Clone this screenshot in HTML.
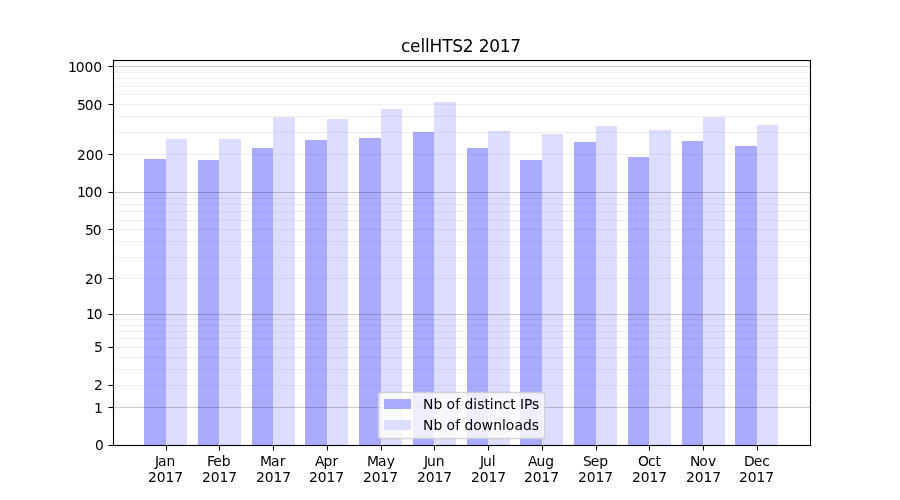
<!DOCTYPE html>
<html lang="en"><head><meta charset="utf-8"><title>cellHTS2 2017</title>
<style>
html,body{margin:0;padding:0;background:#fff;}
body{width:900px;height:500px;overflow:hidden;}
svg{display:block;}
text{font-family:"DejaVu Sans","Liberation Sans",sans-serif;font-size:13.889px;fill:#000;}
.t{font-size:17px;}
.c{shape-rendering:crispEdges;}
</style></head><body>
<svg width="900" height="500" viewBox="0 0 900 500">
<rect width="900" height="500" fill="#fff"/>
<g class="c">
<rect x="144" y="159" width="22" height="286" fill="#aaaaff"/>
<rect x="198" y="160" width="21" height="285" fill="#aaaaff"/>
<rect x="252" y="148" width="21" height="297" fill="#aaaaff"/>
<rect x="305" y="140" width="22" height="305" fill="#aaaaff"/>
<rect x="359" y="138" width="22" height="307" fill="#aaaaff"/>
<rect x="413" y="132" width="21" height="313" fill="#aaaaff"/>
<rect x="467" y="148" width="21" height="297" fill="#aaaaff"/>
<rect x="520" y="160" width="22" height="285" fill="#aaaaff"/>
<rect x="574" y="142" width="22" height="303" fill="#aaaaff"/>
<rect x="628" y="157" width="21" height="288" fill="#aaaaff"/>
<rect x="682" y="141" width="21" height="304" fill="#aaaaff"/>
<rect x="735" y="146" width="22" height="299" fill="#aaaaff"/>
<rect x="166" y="139" width="21" height="306" fill="#ddddff"/>
<rect x="219" y="139" width="22" height="306" fill="#ddddff"/>
<rect x="273" y="117" width="22" height="328" fill="#ddddff"/>
<rect x="327" y="119" width="21" height="326" fill="#ddddff"/>
<rect x="381" y="109" width="21" height="336" fill="#ddddff"/>
<rect x="434" y="102" width="22" height="343" fill="#ddddff"/>
<rect x="488" y="131" width="22" height="314" fill="#ddddff"/>
<rect x="542" y="134" width="21" height="311" fill="#ddddff"/>
<rect x="596" y="126" width="21" height="319" fill="#ddddff"/>
<rect x="649" y="130" width="22" height="315" fill="#ddddff"/>
<rect x="703" y="117" width="22" height="328" fill="#ddddff"/>
<rect x="757" y="125" width="21" height="320" fill="#ddddff"/>
<rect x="114" y="407" width="696" height="1" fill="#000" fill-opacity="0.2"/>
<rect x="114" y="385" width="696" height="1" fill="#000" fill-opacity="0.06"/>
<rect x="114" y="369" width="696" height="1" fill="#000" fill-opacity="0.06"/>
<rect x="114" y="357" width="696" height="1" fill="#000" fill-opacity="0.06"/>
<rect x="114" y="347" width="696" height="1" fill="#000" fill-opacity="0.06"/>
<rect x="114" y="338" width="696" height="1" fill="#000" fill-opacity="0.06"/>
<rect x="114" y="331" width="696" height="1" fill="#000" fill-opacity="0.06"/>
<rect x="114" y="325" width="696" height="1" fill="#000" fill-opacity="0.06"/>
<rect x="114" y="319" width="696" height="1" fill="#000" fill-opacity="0.06"/>
<rect x="114" y="314" width="696" height="1" fill="#000" fill-opacity="0.2"/>
<rect x="114" y="278" width="696" height="1" fill="#000" fill-opacity="0.06"/>
<rect x="114" y="257" width="696" height="1" fill="#000" fill-opacity="0.06"/>
<rect x="114" y="241" width="696" height="1" fill="#000" fill-opacity="0.06"/>
<rect x="114" y="229" width="696" height="1" fill="#000" fill-opacity="0.06"/>
<rect x="114" y="220" width="696" height="1" fill="#000" fill-opacity="0.06"/>
<rect x="114" y="211" width="696" height="1" fill="#000" fill-opacity="0.06"/>
<rect x="114" y="204" width="696" height="1" fill="#000" fill-opacity="0.06"/>
<rect x="114" y="198" width="696" height="1" fill="#000" fill-opacity="0.06"/>
<rect x="114" y="192" width="696" height="1" fill="#000" fill-opacity="0.2"/>
<rect x="114" y="154" width="696" height="1" fill="#000" fill-opacity="0.06"/>
<rect x="114" y="132" width="696" height="1" fill="#000" fill-opacity="0.06"/>
<rect x="114" y="116" width="696" height="1" fill="#000" fill-opacity="0.06"/>
<rect x="114" y="104" width="696" height="1" fill="#000" fill-opacity="0.06"/>
<rect x="114" y="94" width="696" height="1" fill="#000" fill-opacity="0.06"/>
<rect x="114" y="86" width="696" height="1" fill="#000" fill-opacity="0.06"/>
<rect x="114" y="78" width="696" height="1" fill="#000" fill-opacity="0.06"/>
<rect x="114" y="72" width="696" height="1" fill="#000" fill-opacity="0.06"/>
<rect x="114" y="66" width="696" height="1" fill="#000" fill-opacity="0.2"/>
</g>
<rect x="378.5" y="392.5" width="166" height="46" rx="2.78" ry="2.78" fill="#fff" fill-opacity="0.8" stroke="#ccc" stroke-opacity="0.8" stroke-width="1.389"/>
<rect class="c" x="384" y="399" width="27" height="10" fill="#aaaaff"/>
<rect class="c" x="384" y="420" width="27" height="10" fill="#ddddff"/>
<g class="c">
<rect x="112" y="60" width="1" height="386" fill="#000" fill-opacity="0.055"/>
<rect x="114" y="61" width="1" height="384" fill="#000" fill-opacity="0.055"/>
<rect x="809" y="61" width="1" height="384" fill="#000" fill-opacity="0.055"/>
<rect x="811" y="60" width="1" height="386" fill="#000" fill-opacity="0.055"/>
<rect x="113" y="59" width="698" height="1" fill="#000" fill-opacity="0.055"/>
<rect x="114" y="61" width="696" height="1" fill="#000" fill-opacity="0.055"/>
<rect x="114" y="444" width="696" height="1" fill="#000" fill-opacity="0.055"/>
<rect x="113" y="446" width="698" height="1" fill="#000" fill-opacity="0.055"/>
<rect x="113" y="59" width="1" height="1" fill="#000" fill-opacity="0.055"/>
<rect x="112" y="60" width="1" height="1" fill="#000" fill-opacity="0.055"/>
<rect x="810" y="59" width="1" height="1" fill="#000" fill-opacity="0.055"/>
<rect x="811" y="60" width="1" height="1" fill="#000" fill-opacity="0.055"/>
<rect x="112" y="446" width="1" height="1" fill="#000" fill-opacity="0.055"/>
<rect x="113" y="446" width="1" height="1" fill="#000" fill-opacity="0.055"/>
<rect x="811" y="445" width="1" height="1" fill="#000" fill-opacity="0.055"/>
<rect x="810" y="446" width="1" height="1" fill="#000" fill-opacity="0.055"/>
<rect x="113" y="60" width="1" height="386" fill="#000"/>
<rect x="810" y="60" width="1" height="386" fill="#000"/>
<rect x="113" y="60" width="698" height="1" fill="#000"/>
<rect x="113" y="445" width="698" height="1" fill="#000"/>
<rect x="109" y="445" width="4" height="1" fill="#000"/>
<rect x="108" y="445" width="1" height="1" fill="#000" fill-opacity="0.5"/>
<rect x="109" y="444" width="4" height="1" fill="#000" fill-opacity="0.055"/>
<rect x="109" y="446" width="4" height="1" fill="#000" fill-opacity="0.055"/>
<rect x="108" y="444" width="1" height="1" fill="#000" fill-opacity="0.0275"/>
<rect x="108" y="446" width="1" height="1" fill="#000" fill-opacity="0.0275"/>
<rect x="109" y="407" width="4" height="1" fill="#000"/>
<rect x="108" y="407" width="1" height="1" fill="#000" fill-opacity="0.5"/>
<rect x="109" y="406" width="4" height="1" fill="#000" fill-opacity="0.055"/>
<rect x="109" y="408" width="4" height="1" fill="#000" fill-opacity="0.055"/>
<rect x="108" y="406" width="1" height="1" fill="#000" fill-opacity="0.0275"/>
<rect x="108" y="408" width="1" height="1" fill="#000" fill-opacity="0.0275"/>
<rect x="109" y="385" width="4" height="1" fill="#000"/>
<rect x="108" y="385" width="1" height="1" fill="#000" fill-opacity="0.5"/>
<rect x="109" y="384" width="4" height="1" fill="#000" fill-opacity="0.055"/>
<rect x="109" y="386" width="4" height="1" fill="#000" fill-opacity="0.055"/>
<rect x="108" y="384" width="1" height="1" fill="#000" fill-opacity="0.0275"/>
<rect x="108" y="386" width="1" height="1" fill="#000" fill-opacity="0.0275"/>
<rect x="109" y="347" width="4" height="1" fill="#000"/>
<rect x="108" y="347" width="1" height="1" fill="#000" fill-opacity="0.5"/>
<rect x="109" y="346" width="4" height="1" fill="#000" fill-opacity="0.055"/>
<rect x="109" y="348" width="4" height="1" fill="#000" fill-opacity="0.055"/>
<rect x="108" y="346" width="1" height="1" fill="#000" fill-opacity="0.0275"/>
<rect x="108" y="348" width="1" height="1" fill="#000" fill-opacity="0.0275"/>
<rect x="109" y="314" width="4" height="1" fill="#000"/>
<rect x="108" y="314" width="1" height="1" fill="#000" fill-opacity="0.5"/>
<rect x="109" y="313" width="4" height="1" fill="#000" fill-opacity="0.055"/>
<rect x="109" y="315" width="4" height="1" fill="#000" fill-opacity="0.055"/>
<rect x="108" y="313" width="1" height="1" fill="#000" fill-opacity="0.0275"/>
<rect x="108" y="315" width="1" height="1" fill="#000" fill-opacity="0.0275"/>
<rect x="109" y="278" width="4" height="1" fill="#000"/>
<rect x="108" y="278" width="1" height="1" fill="#000" fill-opacity="0.5"/>
<rect x="109" y="277" width="4" height="1" fill="#000" fill-opacity="0.055"/>
<rect x="109" y="279" width="4" height="1" fill="#000" fill-opacity="0.055"/>
<rect x="108" y="277" width="1" height="1" fill="#000" fill-opacity="0.0275"/>
<rect x="108" y="279" width="1" height="1" fill="#000" fill-opacity="0.0275"/>
<rect x="109" y="229" width="4" height="1" fill="#000"/>
<rect x="108" y="229" width="1" height="1" fill="#000" fill-opacity="0.5"/>
<rect x="109" y="228" width="4" height="1" fill="#000" fill-opacity="0.055"/>
<rect x="109" y="230" width="4" height="1" fill="#000" fill-opacity="0.055"/>
<rect x="108" y="228" width="1" height="1" fill="#000" fill-opacity="0.0275"/>
<rect x="108" y="230" width="1" height="1" fill="#000" fill-opacity="0.0275"/>
<rect x="109" y="192" width="4" height="1" fill="#000"/>
<rect x="108" y="192" width="1" height="1" fill="#000" fill-opacity="0.5"/>
<rect x="109" y="191" width="4" height="1" fill="#000" fill-opacity="0.055"/>
<rect x="109" y="193" width="4" height="1" fill="#000" fill-opacity="0.055"/>
<rect x="108" y="191" width="1" height="1" fill="#000" fill-opacity="0.0275"/>
<rect x="108" y="193" width="1" height="1" fill="#000" fill-opacity="0.0275"/>
<rect x="109" y="154" width="4" height="1" fill="#000"/>
<rect x="108" y="154" width="1" height="1" fill="#000" fill-opacity="0.5"/>
<rect x="109" y="153" width="4" height="1" fill="#000" fill-opacity="0.055"/>
<rect x="109" y="155" width="4" height="1" fill="#000" fill-opacity="0.055"/>
<rect x="108" y="153" width="1" height="1" fill="#000" fill-opacity="0.0275"/>
<rect x="108" y="155" width="1" height="1" fill="#000" fill-opacity="0.0275"/>
<rect x="109" y="104" width="4" height="1" fill="#000"/>
<rect x="108" y="104" width="1" height="1" fill="#000" fill-opacity="0.5"/>
<rect x="109" y="103" width="4" height="1" fill="#000" fill-opacity="0.055"/>
<rect x="109" y="105" width="4" height="1" fill="#000" fill-opacity="0.055"/>
<rect x="108" y="103" width="1" height="1" fill="#000" fill-opacity="0.0275"/>
<rect x="108" y="105" width="1" height="1" fill="#000" fill-opacity="0.0275"/>
<rect x="109" y="66" width="4" height="1" fill="#000"/>
<rect x="108" y="66" width="1" height="1" fill="#000" fill-opacity="0.5"/>
<rect x="109" y="65" width="4" height="1" fill="#000" fill-opacity="0.055"/>
<rect x="109" y="67" width="4" height="1" fill="#000" fill-opacity="0.055"/>
<rect x="108" y="65" width="1" height="1" fill="#000" fill-opacity="0.0275"/>
<rect x="108" y="67" width="1" height="1" fill="#000" fill-opacity="0.0275"/>
<rect x="166" y="446" width="1" height="4" fill="#000"/>
<rect x="166" y="450" width="1" height="1" fill="#000" fill-opacity="0.5"/>
<rect x="165" y="446" width="1" height="4" fill="#000" fill-opacity="0.055"/>
<rect x="167" y="446" width="1" height="4" fill="#000" fill-opacity="0.055"/>
<rect x="165" y="450" width="1" height="1" fill="#000" fill-opacity="0.0275"/>
<rect x="167" y="450" width="1" height="1" fill="#000" fill-opacity="0.0275"/>
<rect x="219" y="446" width="1" height="4" fill="#000"/>
<rect x="219" y="450" width="1" height="1" fill="#000" fill-opacity="0.5"/>
<rect x="218" y="446" width="1" height="4" fill="#000" fill-opacity="0.055"/>
<rect x="220" y="446" width="1" height="4" fill="#000" fill-opacity="0.055"/>
<rect x="218" y="450" width="1" height="1" fill="#000" fill-opacity="0.0275"/>
<rect x="220" y="450" width="1" height="1" fill="#000" fill-opacity="0.0275"/>
<rect x="273" y="446" width="1" height="4" fill="#000"/>
<rect x="273" y="450" width="1" height="1" fill="#000" fill-opacity="0.5"/>
<rect x="272" y="446" width="1" height="4" fill="#000" fill-opacity="0.055"/>
<rect x="274" y="446" width="1" height="4" fill="#000" fill-opacity="0.055"/>
<rect x="272" y="450" width="1" height="1" fill="#000" fill-opacity="0.0275"/>
<rect x="274" y="450" width="1" height="1" fill="#000" fill-opacity="0.0275"/>
<rect x="327" y="446" width="1" height="4" fill="#000"/>
<rect x="327" y="450" width="1" height="1" fill="#000" fill-opacity="0.5"/>
<rect x="326" y="446" width="1" height="4" fill="#000" fill-opacity="0.055"/>
<rect x="328" y="446" width="1" height="4" fill="#000" fill-opacity="0.055"/>
<rect x="326" y="450" width="1" height="1" fill="#000" fill-opacity="0.0275"/>
<rect x="328" y="450" width="1" height="1" fill="#000" fill-opacity="0.0275"/>
<rect x="381" y="446" width="1" height="4" fill="#000"/>
<rect x="381" y="450" width="1" height="1" fill="#000" fill-opacity="0.5"/>
<rect x="380" y="446" width="1" height="4" fill="#000" fill-opacity="0.055"/>
<rect x="382" y="446" width="1" height="4" fill="#000" fill-opacity="0.055"/>
<rect x="380" y="450" width="1" height="1" fill="#000" fill-opacity="0.0275"/>
<rect x="382" y="450" width="1" height="1" fill="#000" fill-opacity="0.0275"/>
<rect x="434" y="446" width="1" height="4" fill="#000"/>
<rect x="434" y="450" width="1" height="1" fill="#000" fill-opacity="0.5"/>
<rect x="433" y="446" width="1" height="4" fill="#000" fill-opacity="0.055"/>
<rect x="435" y="446" width="1" height="4" fill="#000" fill-opacity="0.055"/>
<rect x="433" y="450" width="1" height="1" fill="#000" fill-opacity="0.0275"/>
<rect x="435" y="450" width="1" height="1" fill="#000" fill-opacity="0.0275"/>
<rect x="488" y="446" width="1" height="4" fill="#000"/>
<rect x="488" y="450" width="1" height="1" fill="#000" fill-opacity="0.5"/>
<rect x="487" y="446" width="1" height="4" fill="#000" fill-opacity="0.055"/>
<rect x="489" y="446" width="1" height="4" fill="#000" fill-opacity="0.055"/>
<rect x="487" y="450" width="1" height="1" fill="#000" fill-opacity="0.0275"/>
<rect x="489" y="450" width="1" height="1" fill="#000" fill-opacity="0.0275"/>
<rect x="542" y="446" width="1" height="4" fill="#000"/>
<rect x="542" y="450" width="1" height="1" fill="#000" fill-opacity="0.5"/>
<rect x="541" y="446" width="1" height="4" fill="#000" fill-opacity="0.055"/>
<rect x="543" y="446" width="1" height="4" fill="#000" fill-opacity="0.055"/>
<rect x="541" y="450" width="1" height="1" fill="#000" fill-opacity="0.0275"/>
<rect x="543" y="450" width="1" height="1" fill="#000" fill-opacity="0.0275"/>
<rect x="596" y="446" width="1" height="4" fill="#000"/>
<rect x="596" y="450" width="1" height="1" fill="#000" fill-opacity="0.5"/>
<rect x="595" y="446" width="1" height="4" fill="#000" fill-opacity="0.055"/>
<rect x="597" y="446" width="1" height="4" fill="#000" fill-opacity="0.055"/>
<rect x="595" y="450" width="1" height="1" fill="#000" fill-opacity="0.0275"/>
<rect x="597" y="450" width="1" height="1" fill="#000" fill-opacity="0.0275"/>
<rect x="649" y="446" width="1" height="4" fill="#000"/>
<rect x="649" y="450" width="1" height="1" fill="#000" fill-opacity="0.5"/>
<rect x="648" y="446" width="1" height="4" fill="#000" fill-opacity="0.055"/>
<rect x="650" y="446" width="1" height="4" fill="#000" fill-opacity="0.055"/>
<rect x="648" y="450" width="1" height="1" fill="#000" fill-opacity="0.0275"/>
<rect x="650" y="450" width="1" height="1" fill="#000" fill-opacity="0.0275"/>
<rect x="703" y="446" width="1" height="4" fill="#000"/>
<rect x="703" y="450" width="1" height="1" fill="#000" fill-opacity="0.5"/>
<rect x="702" y="446" width="1" height="4" fill="#000" fill-opacity="0.055"/>
<rect x="704" y="446" width="1" height="4" fill="#000" fill-opacity="0.055"/>
<rect x="702" y="450" width="1" height="1" fill="#000" fill-opacity="0.0275"/>
<rect x="704" y="450" width="1" height="1" fill="#000" fill-opacity="0.0275"/>
<rect x="757" y="446" width="1" height="4" fill="#000"/>
<rect x="757" y="450" width="1" height="1" fill="#000" fill-opacity="0.5"/>
<rect x="756" y="446" width="1" height="4" fill="#000" fill-opacity="0.055"/>
<rect x="758" y="446" width="1" height="4" fill="#000" fill-opacity="0.055"/>
<rect x="756" y="450" width="1" height="1" fill="#000" fill-opacity="0.0275"/>
<rect x="758" y="450" width="1" height="1" fill="#000" fill-opacity="0.0275"/>
</g>
<text class="t" x="401 410 420.5 425 429.5 442.25 452.25 462.75 473 478.75 489.25 499.75 510.25" y="52">cellHTS2 2017</text>
<text x="95" y="450">0</text>
<text x="94" y="413">1</text>
<text x="94" y="390">2</text>
<text x="94" y="352">5</text>
<text x="86 93.75" y="319">10</text>
<text x="85 93.75" y="284">20</text>
<text x="85 92.75" y="235">50</text>
<text x="77 84.75 93.5" y="197">100</text>
<text x="77 85.75 94.5" y="160">200</text>
<text x="77 84.75 93.5" y="110">500</text>
<text x="68 75.75 84.5 93.25" y="72">1000</text>
<text x="155 158 166.5" y="466">Jan</text>
<text x="148 156.75 165.5 174.25" y="482">2017</text>
<text x="207 213.25 221.75" y="466">Feb</text>
<text x="202 210.75 219.5 228.25" y="482">2017</text>
<text x="260 271 279.75" y="466">Mar</text>
<text x="256 264.75 273.5 282.25" y="482">2017</text>
<text x="315 323.5 332.5" y="466">Apr</text>
<text x="309 317.75 326.5 335.25" y="482">2017</text>
<text x="367 378 386.75" y="466">May</text>
<text x="363 371.75 380.5 389.25" y="482">2017</text>
<text x="424 427 435.75" y="466">Jun</text>
<text x="417 425.75 434.5 443.25" y="482">2017</text>
<text x="480 483 491.75" y="466">Jul</text>
<text x="471 479.75 488.5 497.25" y="482">2017</text>
<text x="528 536.5 545.25" y="466">Aug</text>
<text x="524 532.75 541.5 550.25" y="482">2017</text>
<text x="583 590.75 599.25" y="466">Sep</text>
<text x="578 586.75 595.5 604.25" y="482">2017</text>
<text x="638 648 655.5" y="466">Oct</text>
<text x="632 640.75 649.5 658.25" y="482">2017</text>
<text x="690 699.25 708" y="466">Nov</text>
<text x="686 694.75 703.5 712.25" y="482">2017</text>
<text x="744 753.75 762.25" y="466">Dec</text>
<text x="739 747.75 756.5 765.25" y="482">2017</text>
<text x="423 433.5 442.25 446.5 455.25 460 464.5 473.25 477.25 484.5 489.75 493.75 502.5 510.25 515.5 520 524 532" y="409">Nb of distinct IPs</text>
<text x="423 433.5 442.25 446.5 455.25 460.25 464.5 473.25 481.75 493.25 502 505.75 514.5 523 531.75" y="430">Nb of downloads</text>
</svg></body></html>
